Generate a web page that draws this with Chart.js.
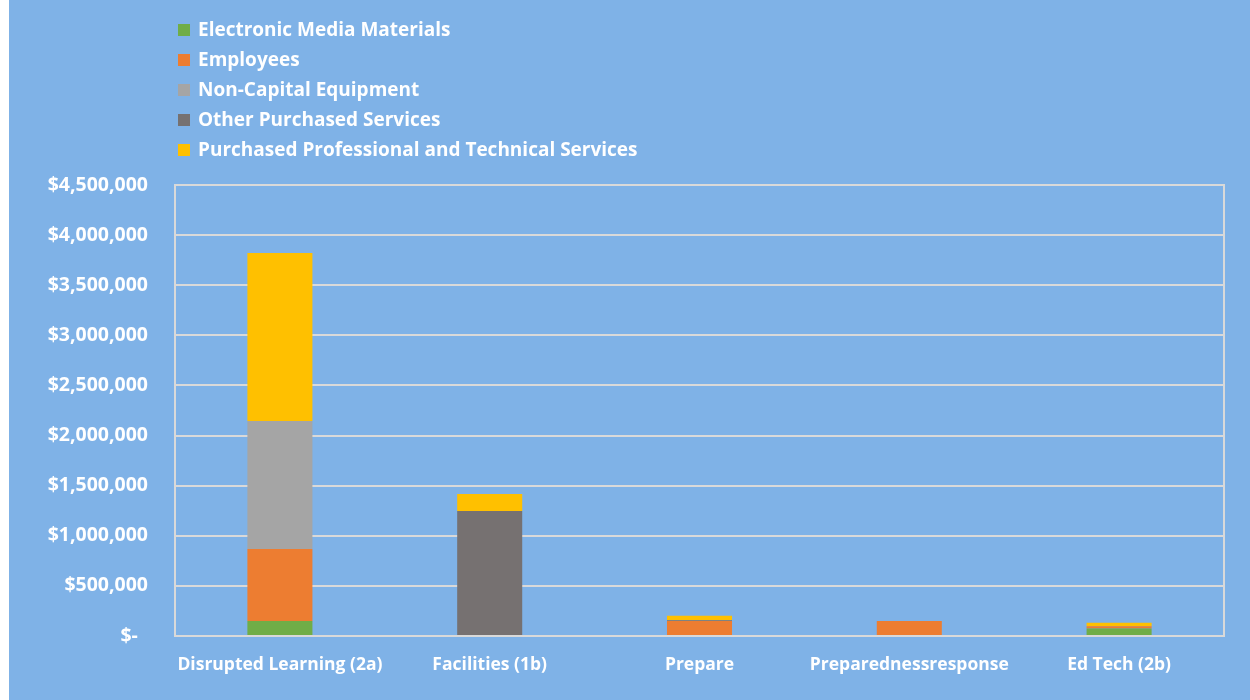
<!DOCTYPE html>
<html>
<head>
<meta charset="utf-8">
<script src="https://cdn.jsdelivr.net/npm/chart.js@4"></script>
<style>
  body { margin: 0; background: #ffffff; }
  #wrap { position: absolute; left: 9px; top: 0; width: 1241px; height: 700px; background: #7FB2E7; }
</style>
</head>
<body>
<div id="wrap"><canvas id="myChart"></canvas></div>
<script>
const categories = ['Disrupted Learning (2a)', 'Facilities (1b)', 'Prepare', 'Preparednessresponse', 'Ed Tech (2b)'];
const electronicMedia = [150000, 0, 0, 0, 75000];
const employees = [718000, 0, 150000, 150000, 22000];
const nonCapital = [1278000, 0, 0, 0, 0];
const otherPurchased = [0, 1247000, 8000, 0, 0];
const professionalTech = [1676000, 170000, 45000, 0, 35000];
const yTicks = [0, 500000, 1000000, 1500000, 2000000, 2500000, 3000000, 3500000, 4000000, 4500000];

const fontFam = '"Open Sans", Lato, sans-serif';

const legendPlugin = {
  id: 'sideLegend',
  afterDraw(chart) {
    const c = chart.ctx;
    c.save();
    c.font = 'bold 19px ' + fontFam;
    c.textBaseline = 'middle';
    chart.data.datasets.forEach((ds, i) => {
      const y = 30 + i * 30;
      c.fillStyle = ds.backgroundColor;
      c.fillRect(169, y - 6, 12, 12);
      c.fillStyle = '#ffffff';
      c.fillText(ds.label, 189, y + 1);
    });
    c.restore();
  }
};

const frame = {
  id: 'frame',
  beforeDatasetsDraw(chart) {
    const a = chart.chartArea, c = chart.ctx;
    c.save();
    c.strokeStyle = '#D9D9D9';
    c.lineWidth = 2;
    c.strokeRect(a.left, a.top, a.right - a.left, a.bottom - a.top);
    c.restore();
  }
};

new Chart(document.getElementById('myChart'), {
  type: 'bar',
  data: {
    labels: categories,
    datasets: [
      { label: 'Electronic Media Materials', data: electronicMedia, backgroundColor: '#70AD47' },
      { label: 'Employees', data: employees, backgroundColor: '#ED7D31' },
      { label: 'Non-Capital Equipment', data: nonCapital, backgroundColor: '#A5A5A5' },
      { label: 'Other Purchased Services', data: otherPurchased, backgroundColor: '#767171' },
      { label: 'Purchased Professional and Technical Services', data: professionalTech, backgroundColor: '#FFC000' }
    ]
  },
  options: {
    responsive: true,
    maintainAspectRatio: false,
    animation: false,
    layout: { padding: { top: 185, right: 26, bottom: 0, left: 0 } },
    datasets: { bar: { barPercentage: 0.31, categoryPercentage: 1 } },
    plugins: { legend: { display: false }, tooltip: { enabled: false } },
    scales: {
      x: {
        stacked: true,
        grid: { display: false, drawTicks: false },
        border: { display: false },
        ticks: { color: '#ffffff', font: { family: fontFam, size: 17.5, weight: 'bold' }, padding: 19, maxRotation: 0 },
        afterFit(s) { s.height = 64; }
      },
      y: {
        stacked: true,
        min: 0,
        max: 4500000,
        afterBuildTicks(s) { s.ticks = yTicks.map(v => ({ value: v })); },
        grid: { color: '#D9D9D9', lineWidth: 2, drawTicks: false },
        border: { display: false },
        ticks: {
          color: '#ffffff',
          font: { family: fontFam, size: 19.5, weight: 'bold' },
          padding: 27,
          callback: v => v === 0 ? '$-  ' : '$' + v.toLocaleString('en-US')
        },
        afterFit(s) { s.width = 166; }
      }
    }
  },
  plugins: [frame, legendPlugin]
});
</script>
</body>
</html>
